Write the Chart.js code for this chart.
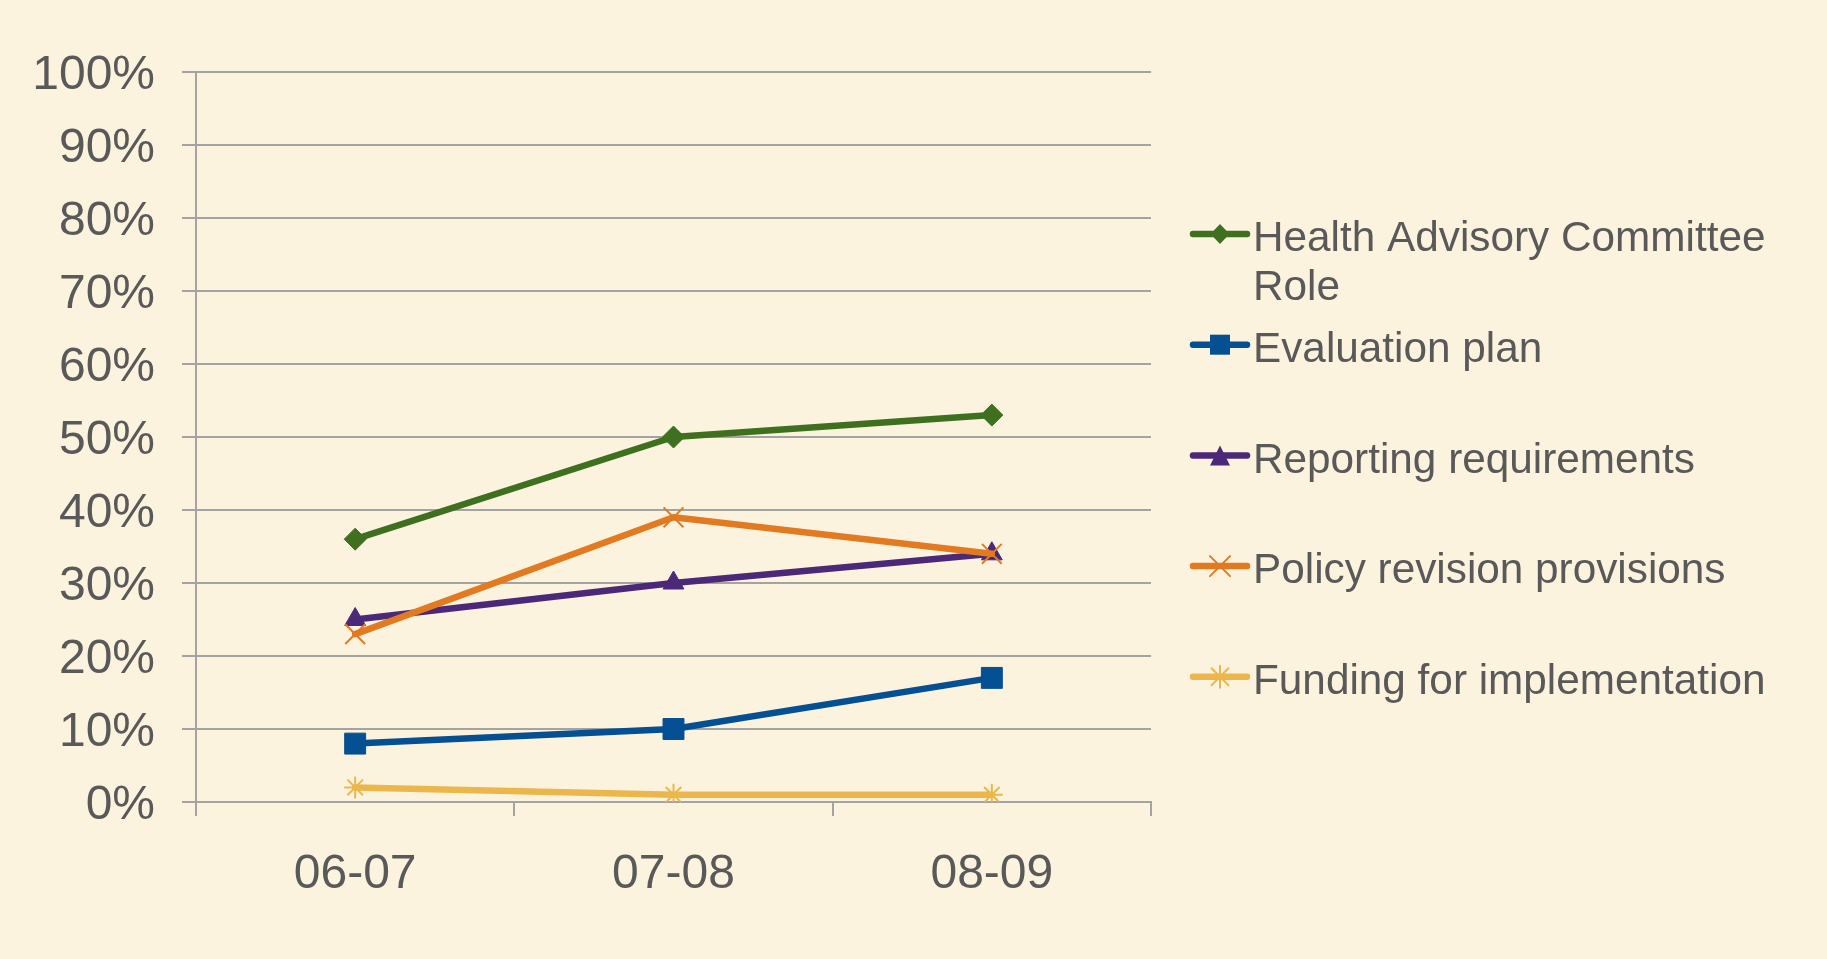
<!DOCTYPE html>
<html>
<head>
<meta charset="utf-8">
<script src="https://cdn.jsdelivr.net/npm/chart.js@4.4.1/dist/chart.umd.min.js"></script>
<style>
  html, body { margin: 0; padding: 0; background: #FCF3DE; }
  #wrap { position: relative; width: 1827px; height: 959px; }
  canvas { display: block; }
</style>
</head>
<body>
<div id="wrap"><canvas id="c" width="1827" height="959"></canvas></div>
<script>
// ---- data ----
const categories = ['06-07', '07-08', '08-09'];
const seriesNames = [
  ['Health Advisory Committee', 'Role'],
  ['Evaluation plan'],
  ['Reporting requirements'],
  ['Policy revision provisions'],
  ['Funding for implementation']
];
const healthAdvisory = [36, 50, 53];
const evaluationPlan = [8, 10, 17];
const reportingReq = [25, 30, 34];
const policyRevision = [23, 39, 34];
const fundingImpl = [2, 1, 1];
const yTickValues = [0, 10, 20, 30, 40, 50, 60, 70, 80, 90, 100];

// ---- styles ----
const colors = ['#3F7020', '#054F93', '#4B2878', '#E27A22', '#EBB74C'];
const styles = ['rectRot', 'rect', 'triangle', 'crossRot', 'star'];
const radii = [11, 14.8, 12, 14, 11];
const textColor = '#595959';
const gridColor = '#A3A3A3';
const FONT = "'Liberation Sans', Arial, sans-serif";

const values = [healthAdvisory, evaluationPlan, reportingReq, policyRevision, fundingImpl];

const datasets = values.map((v, i) => ({
  label: seriesNames[i].join(' '),
  data: v,
  borderColor: colors[i],
  backgroundColor: colors[i],
  borderWidth: 6.5,
  pointStyle: styles[i],
  pointRadius: radii[i],
  pointHoverRadius: radii[i],
  pointBorderWidth: (styles[i] === 'crossRot' || styles[i] === 'star') ? 2 : 1,
  pointBorderColor: colors[i],
  pointBackgroundColor: colors[i],
  tension: 0,
  borderJoinStyle: 'round',
  borderCapStyle: 'round',
  order: values.length - i
}));

function drawMarker(ctx, style, x, y, r, color) {
  ctx.save();
  ctx.fillStyle = color;
  ctx.strokeStyle = color;
  ctx.lineWidth = 2;
  ctx.beginPath();
  if (style === 'rectRot') {
    ctx.moveTo(x - 9.5, y); ctx.lineTo(x, y - 10); ctx.lineTo(x + 9.5, y); ctx.lineTo(x, y + 10);
    ctx.closePath(); ctx.fill();
  } else if (style === 'rect') {
    ctx.rect(x - 10, y - 10, 20, 20); ctx.fill();
  } else if (style === 'triangle') {
    const h = 20, w = 20;
    ctx.moveTo(x, y - h / 2); ctx.lineTo(x + w / 2, y + h / 2); ctx.lineTo(x - w / 2, y + h / 2);
    ctx.closePath(); ctx.fill();
  } else if (style === 'crossRot') {
    const s = 10;
    ctx.moveTo(x - s, y - s); ctx.lineTo(x + s, y + s);
    ctx.moveTo(x + s, y - s); ctx.lineTo(x - s, y + s);
    ctx.stroke();
  } else if (style === 'star') {
    const s = 8.5;
    ctx.moveTo(x, y - r); ctx.lineTo(x, y + r);
    ctx.moveTo(x - r, y); ctx.lineTo(x + r, y);
    ctx.moveTo(x - s, y - s); ctx.lineTo(x + s, y + s);
    ctx.moveTo(x + s, y - s); ctx.lineTo(x - s, y + s);
    ctx.stroke();
  }
  ctx.restore();
}

const legendPlugin = {
  id: 'customLegend',
  afterDraw(chart) {
    const ctx = chart.ctx;
    const x0 = 1193, x1 = 1247, tx = 1253;
    const startY = 234, step = 110.7, lineH = 49;
    ctx.save();
    chart.data.datasets.forEach((ds, i) => {
      const y = startY + i * step;
      ctx.strokeStyle = colors[i];
      ctx.lineWidth = 6.5;
      ctx.lineCap = 'round';
      ctx.beginPath();
      ctx.moveTo(x0, y); ctx.lineTo(x1, y); ctx.stroke();
      drawMarker(ctx, styles[i], (x0 + x1) / 2, y, 11, colors[i]);
      ctx.fillStyle = textColor;
      ctx.font = '42.3px ' + FONT;
      ctx.textAlign = 'left';
      ctx.textBaseline = 'middle';
      seriesNames[i].forEach((t, k) => {
        ctx.fillText(t, tx, y + 5.5 + k * lineH);
      });
    });
    ctx.restore();
  }
};

const bgPlugin = {
  id: 'bg',
  beforeDraw(chart) {
    const ctx = chart.ctx;
    ctx.save();
    ctx.fillStyle = '#FCF3DE';
    ctx.fillRect(0, 0, chart.width, chart.height);
    ctx.restore();
  }
};

new Chart(document.getElementById('c'), {
  type: 'line',
  data: { labels: categories, datasets: datasets },
  plugins: [bgPlugin, legendPlugin],
  options: {
    responsive: false,
    animation: false,
    devicePixelRatio: 1,
    layout: { padding: { left: 0, top: 72, right: 676, bottom: 0 } },
    plugins: { legend: { display: false }, tooltip: { enabled: false } },
    scales: {
      x: {
        type: 'category',
        offset: true,
        afterFit(scale) { scale.height = 157; },
        grid: {
          offset: true,
          drawOnChartArea: false,
          drawTicks: true,
          tickLength: 14,
          color: gridColor,
          lineWidth: 2
        },
        border: { display: true, color: gridColor, width: 2 },
        ticks: {
          color: textColor,
          font: { family: FONT, size: 48 },
          padding: 30,
          maxRotation: 0
        }
      },
      y: {
        min: 0,
        max: 100,
        afterFit(scale) { scale.width = 196; },
        afterBuildTicks(scale) { scale.ticks = yTickValues.map(v => ({ value: v })); },
        grid: {
          color: gridColor,
          lineWidth: 2,
          drawTicks: true,
          tickLength: 14
        },
        border: { display: true, color: gridColor, width: 2 },
        ticks: {
          color: textColor,
          font: { family: FONT, size: 48, lineHeight: 0.15 },
          padding: 27,
          // empty first line shifts the label slightly below its gridline, as in the original
          callback: (v) => ['', v + '%']
        }
      }
    }
  }
});
</script>
</body>
</html>
